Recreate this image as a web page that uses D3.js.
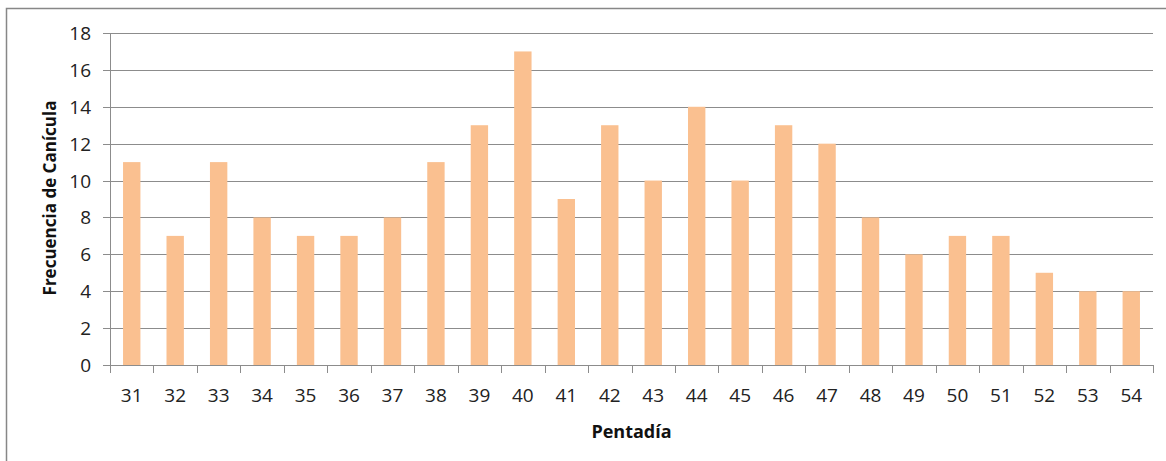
<!DOCTYPE html>
<html><head><meta charset="utf-8">
<script src="https://cdn.jsdelivr.net/npm/d3@7"></script>
<style>body{margin:0;background:#fff;}svg{display:block;}</style>
</head><body>
<script>
const categories = ["31","32","33","34","35","36","37","38","39","40","41","42","43","44","45","46","47","48","49","50","51","52","53","54"];
const values = [11,7,11,8,7,7,8,11,13,17,9,13,10,14,10,13,12,8,6,7,7,5,4,4];
const yTicks = [0,2,4,6,8,10,12,14,16,18];
const xTitle = "Pentadía";
const yTitle = "Frecuencia de Canícula";

const W = 1166, H = 461;
const mLeft = 110, mRight = 1153, mTop = 33, mBottom = 365;
const font = "'Open Sans', Lato, sans-serif";

const svg = d3.select("body").append("svg").attr("width", W).attr("height", H);
svg.append("rect").attr("width", W).attr("height", H).attr("fill", "#fff");
// outer border
svg.append("rect").attr("x", 6.5).attr("y", 8.5).attr("width", W).attr("height", H)
  .attr("fill", "none").attr("stroke", "#878787").attr("stroke-width", 1.5);

const x = d3.scaleBand().domain(categories).range([mLeft, mRight]).paddingInner(0.6).paddingOuter(0.3);
const xOuter = d3.scaleBand().domain(categories).range([mLeft, mRight]);
const y = d3.scaleLinear().domain([0, 18]).range([mBottom, mTop]);

// gridlines + y ticks
const gy = svg.append("g").attr("transform", `translate(${mLeft},0)`)
  .call(d3.axisLeft(y).tickValues(yTicks).tickSize(7).tickPadding(12));
gy.select(".domain").remove();
gy.selectAll(".tick line").attr("stroke", "#8c8c8c");
gy.selectAll(".tick text").attr("font-family", font).attr("font-size", 19).attr("fill", "#222");
gy.selectAll(".tick").attr("transform", d => `translate(0,${Math.round(y(d)) + 0.5})`);
svg.append("g").selectAll("line").data(yTicks).join("line")
  .attr("x1", mLeft).attr("x2", mRight)
  .attr("y1", d => Math.round(y(d)) + 0.5).attr("y2", d => Math.round(y(d)) + 0.5)
  .attr("stroke", "#8c8c8c").attr("stroke-width", 1);

// bars
svg.append("g").selectAll("rect").data(values).join("rect")
  .attr("x", (d, i) => x(categories[i]))
  .attr("y", d => y(d))
  .attr("width", x.bandwidth())
  .attr("height", d => y(0) - y(d))
  .attr("fill", "#FAC090");

// y axis line
svg.append("line").attr("x1", mLeft + 0.5).attr("x2", mLeft + 0.5).attr("y1", mTop).attr("y2", mBottom)
  .attr("stroke", "#8c8c8c");

// x axis
const boundaries = categories.map(c => xOuter(c)).concat([mRight]);
svg.append("line").attr("x1", mLeft).attr("x2", mRight).attr("y1", Math.round(y(0)) + 0.5).attr("y2", Math.round(y(0)) + 0.5)
  .attr("stroke", "#8c8c8c");
svg.append("g").selectAll("line").data(boundaries).join("line")
  .attr("x1", d => Math.round(d) + 0.5).attr("x2", d => Math.round(d) + 0.5)
  .attr("y1", mBottom).attr("y2", mBottom + 8).attr("stroke", "#8c8c8c");
svg.append("g").selectAll("text").data(categories).join("text")
  .attr("x", d => xOuter(d) + xOuter.bandwidth() / 2)
  .attr("y", 402)
  .attr("text-anchor", "middle")
  .attr("font-family", font).attr("font-size", 19).attr("fill", "#222")
  .text(d => d);

// titles
svg.append("text").attr("x", (mLeft + mRight) / 2).attr("y", 438).attr("text-anchor", "middle")
  .attr("font-family", font).attr("font-size", 18).attr("font-weight", "bold").attr("fill", "#111")
  .text(xTitle);
svg.append("text").attr("transform", `translate(56,198) rotate(-90)`).attr("text-anchor", "middle")
  .attr("font-family", font).attr("font-size", 17).attr("font-weight", "bold").attr("fill", "#111")
  .text(yTitle);
</script>
</body></html>
